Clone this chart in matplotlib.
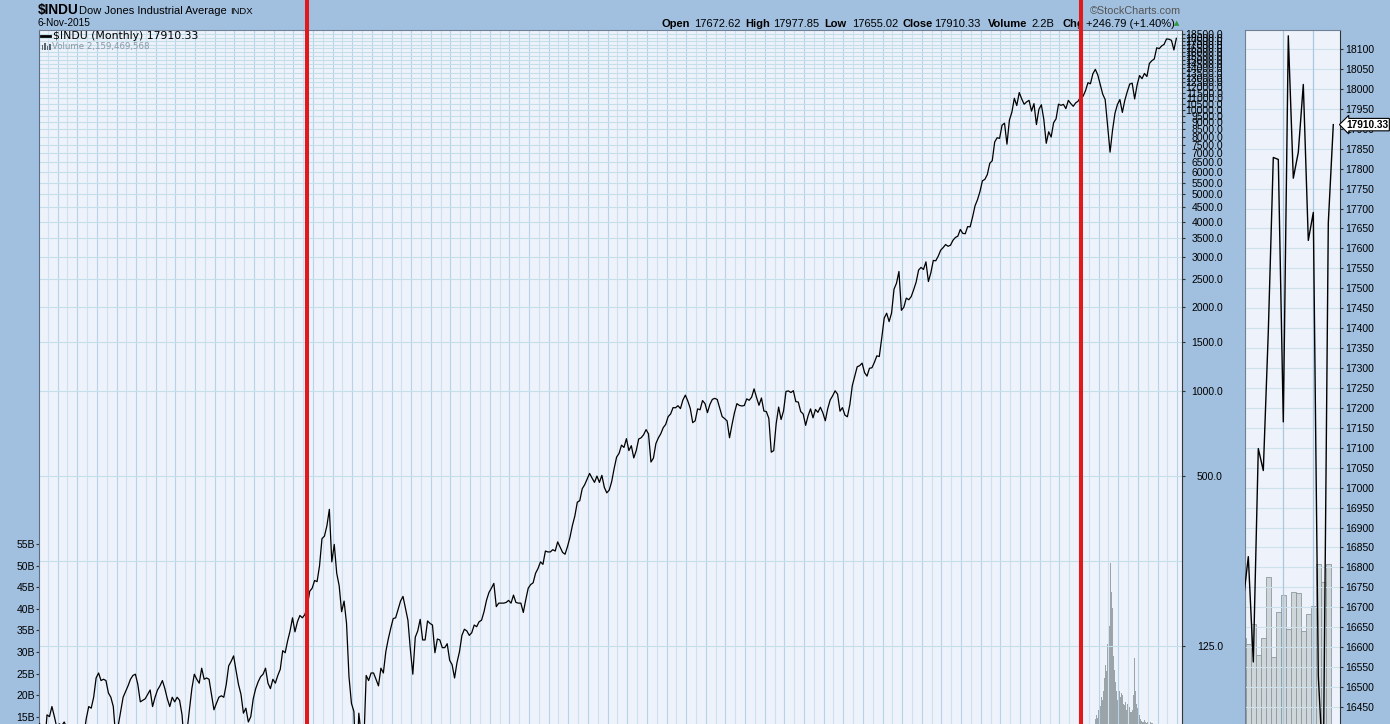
import numpy as np
import matplotlib
matplotlib.use("Agg")
import matplotlib.pyplot as plt
from matplotlib.lines import Line2D
from matplotlib.patches import Rectangle
from matplotlib.ticker import NullLocator

plt.rcParams['font.family'] = ['Liberation Sans', 'DejaVu Sans']

# ---------------- data (quarterly closes) ----------------
closes_1900s = [66, 58, 55, 71, 70, 76, 70, 64, 66, 65, 67, 64, 60, 53, 45, 49,
                50, 53, 60, 69, 76, 75, 82, 96, 100, 94, 95, 94, 85, 82, 76, 59,
                65, 73, 82, 86, 90, 95, 98, 99]
closes_1910s = [91, 79, 80, 81, 84, 87, 76, 82, 87, 90, 94, 88, 81, 76, 82, 79,
                82, 80, 71, 54, 62, 74, 88, 99, 95, 92, 104, 95, 96, 95, 84, 74,
                78, 82, 83, 82, 91, 106, 110, 115]
closes_1920s = [102, 91, 84, 72, 75, 67, 70, 81, 88, 93, 97, 99, 104, 92, 88, 95,
                92, 98, 103, 120, 118, 130, 141, 157, 140, 152, 160, 157,
                161, 172, 195, 200, 213, 211, 240, 300, 306, 333, 381, 248]
closes_1930s = [286, 226, 204, 165, 180, 150, 97, 78, 73, 43, 72, 60, 55, 98, 94, 100,
                100, 95, 90, 104, 100, 119, 132, 144, 156, 157, 168, 180,
                187, 170, 154, 121, 99, 134, 141, 155, 131, 131, 153, 150]
closes_1940s = [148, 118, 132, 131, 123, 123, 127, 111, 107, 96, 109, 119,
                136, 143, 141, 136, 139, 148, 146, 152, 154, 165, 181, 193,
                200, 208, 172, 177, 177, 177, 178, 181, 177, 189, 178, 177,
                177, 164, 182, 200]
closes_1950s = [206, 209, 226, 235, 248, 243, 271, 269, 269, 274, 271, 292,
                280, 268, 264, 281, 303, 334, 361, 404, 409, 451, 466, 488,
                511, 492, 475, 500, 475, 503, 456, 436, 446, 478, 532, 584,
                602, 644, 632, 679]
closes_1960s = [616, 641, 580, 616, 677, 684, 701, 731, 706, 561, 579, 652,
                683, 707, 743, 763, 813, 831, 875, 874, 889, 868, 931, 969,
                924, 870, 774, 786, 866, 860, 927, 905, 840, 898, 936, 944,
                935, 873, 813, 800]
closes_1970s = [785, 684, 761, 839, 904, 891, 887, 890, 940, 929, 953, 1020,
                951, 892, 947, 851, 847, 802, 608, 616, 768, 879, 794, 852,
                999, 1003, 990, 1005, 919, 916, 847, 831, 757, 819, 866, 805,
                862, 842, 878, 839]
closes_1980s = [786, 868, 932, 964, 1004, 977, 850, 875, 823, 812, 896, 1047,
                1130, 1222, 1233, 1259, 1165, 1132, 1207, 1212, 1267, 1336, 1329, 1547,
                1819, 1893, 1768, 1896, 2305, 2419, 2663, 1939, 1989, 2142, 2113, 2169,
                2294, 2440, 2693, 2753]
closes_1990s = [2707, 2881, 2453, 2634, 2914, 2907, 3017, 3169, 3236, 3319, 3272, 3301,
                3436, 3516, 3555, 3754, 3636, 3625, 3843, 3834, 4158, 4556, 4789, 5117,
                5587, 5655, 5882, 6448, 6584, 7673, 7945, 7908, 8800, 8952, 7539, 9181,
                9786, 10971, 10337, 11497]
closes_2000s = [10922, 10448, 10651, 10787, 9879, 10502, 8848, 10022,
                10404, 9243, 7592, 8342, 7992, 8985, 9275, 10454,
                10358, 10435, 10080, 10783, 10504, 10275, 10569, 10718,
                11109, 11150, 11679, 12463, 12354, 13409, 13896, 13265,
                12263, 11350, 10851, 8776, 7063, 8447, 9712, 10428]
closes_2010s = [10857, 9774, 10788, 11578, 12320, 12414, 10913, 12218,
                13212, 12880, 13437, 13104, 14579, 14910, 15130, 16577,
                16458, 16827, 17043, 17823, 17776, 17620, 16285, 17910]

# monthly volume (billions) from Aug 2007, the part visible above the cut
volume_b = [13.9, 14.5, 15.5, 14.8, 16.5, 17.0, 18.5, 17.5, 19.5, 18.8, 20.9, 22.5,
            24.0, 27.0, 25.5, 31.9, 26.6, 30.0, 36.0, 50.7, 44.0, 40.1, 33.2, 29.0,
            25.8, 23.0, 21.0, 20.0, 19.0, 18.5, 21.0, 19.5, 20.5, 23.3, 20.0, 18.0,
            17.8, 18.5, 17.5, 16.5, 18.0, 17.0, 17.3, 16.0, 15.5, 16.0, 16.5, 20.0,
            28.5, 22.0, 21.0, 18.0, 17.0, 16.0, 15.5, 14.8, 14.5, 14.0, 13.8, 13.9,
            13.6, 14.2, 13.7, 13.5, 13.9, 14.1, 13.6, 13.4, 13.8, 13.6, 13.5, 13.4]

# side panel: monthly closes May 2014 .. Nov 2015
panel_months = ['2014-05', '2014-06', '2014-07', '2014-08', '2014-09', '2014-10',
                '2014-11', '2014-12', '2015-01', '2015-02', '2015-03', '2015-04',
                '2015-05', '2015-06', '2015-07', '2015-08', '2015-09', '2015-10', '2015-11']
panel_closes = [16717, 16827, 16563, 17098, 17043, 17391, 17828, 17823, 17165,
                18133, 17776, 17841, 18011, 17620, 17690, 16528, 16285, 17664, 17910.33]
panel_volume = [10.0, 9.7, 10.75, 9.1, 10.0, 13.3, 9.0, 11.4, 12.3, 10.5, 12.5,
                12.4, 10.4, 11.3, 11.7, 14.0, 13.0, 14.0, 2.2]

price_ticks = [125, 500, 1000] + list(range(1500, 19000, 500))
price_labels = [f"{v:.1f}" for v in price_ticks]
price_grid = [125, 250, 500, 1000] + list(range(1500, 19000, 500))
vol_ticks = [15, 20, 25, 30, 35, 40, 45, 50, 55]
vol_labels = [f"{v}B" for v in vol_ticks]
panel_ticks = list(range(16450, 18101, 50))
event_years = [1927.37, 2006.18]

# ---------------- figure ----------------
W, H = 1390, 724
fig = plt.figure(figsize=(W / 100, H / 100), dpi=100)
fig.patch.set_facecolor('#a1c0e0')


def fx(px):
    return px / W


def fy(py):
    return 1 - py / H


BG = '#eef2fa'
TOP = 30
L, R = 38.5, 1181.7

axv = fig.add_axes([fx(L), 0, fx(R - L), (H - TOP) / H])
axv.set_facecolor(BG)
axp = axv.twinx()
axp.set_zorder(5)
axp.patch.set_visible(False)

closes = np.concatenate([closes_1900s, closes_1910s, closes_1920s, closes_1930s,
                         closes_1940s, closes_1950s, closes_1960s, closes_1970s,
                         closes_1980s, closes_1990s, closes_2000s, closes_2010s])
t_q = 1900 + 2 / 12 + 0.25 * np.arange(len(closes))

axv.set_xlim(1900.05, 2016.46)
axp.set_yscale('log')
axp.set_ylim(65.9, 19170)
axv.set_ylim(13.33, 173.98)

# grid
for yr in range(1901, 2017):
    col = '#b7d3ea' if yr % 2 == 0 else '#cfe1f1'
    axp.axvline(yr, color=col, lw=0.8, zorder=0.5)
for v in price_grid:
    axp.axhline(v, color='#c3dfea', lw=0.8, zorder=0.5)

# volume
t_v = 2007 + 7 / 12 + np.arange(len(volume_b)) / 12
axv.bar(t_v + 1 / 24, volume_b, width=1 / 12, color='#9aa4a9', linewidth=0)

# price
axp.plot(t_q, closes, color='black', lw=0.9, zorder=3)

# red event lines
for ey in event_years:
    axp.axvline(ey, ymin=0, ymax=H / (H - TOP), color='#e2191c', lw=2.9,
                clip_on=False, zorder=10)

# axes styling
axv.set_xticks([])
axp.set_xticks([])
axp.set_yticks(price_ticks)
axp.set_yticklabels(price_labels)
axp.yaxis.set_minor_locator(NullLocator())
axp.tick_params(axis='y', which='major', right=True, left=False, labelright=True,
                labelleft=False, length=2, pad=27.7, labelsize=7.5, color='#333333')
for lab in axp.get_yticklabels():
    lab.set_horizontalalignment('right')
axv.yaxis.tick_left()
axv.set_yticks(vol_ticks)
axv.set_yticklabels(vol_labels)
axv.tick_params(axis='y', length=2.2, pad=0.5, labelsize=7.5, color='#333333')
for sp in axv.spines.values():
    sp.set_visible(False)
axp.spines['bottom'].set_visible(False)
axp.spines['top'].set_color('#6f7f95')
axp.spines['left'].set_color('#5d6d85')
axp.spines['right'].set_color('#333333')
axp.spines['right'].set_linestyle((0, (1, 1)))
for s in ['top', 'left', 'right']:
    axp.spines[s].set_linewidth(0.8)

# ---------------- side panel ----------------
PL, PR = 1245, 1340
axsv = fig.add_axes([fx(PL), 0, fx(PR - PL), (H - TOP) / H])
axsv.set_facecolor(BG)
axsp = axsv.twinx()
axsp.set_zorder(axsv.get_zorder() + 1)
axsp.patch.set_visible(False)
idx = np.arange(len(panel_months)) - 1
axsv.set_xlim(-0.66, 18.34)
axsv.set_ylim(5.376, 42.69)
axsp.set_ylim(16407.4, 18147.6)
axsv.bar(idx, panel_volume, width=1.0, color='#cfd6da', edgecolor='#8d999e', lw=0.6)
for v in panel_ticks:
    axsp.axhline(v, color='#cde2ec', lw=0.8, zorder=0.5)
for i in [7, 13]:
    axsp.axvline(i, color='#a9c8e2', lw=0.9, zorder=0.5)
axsp.plot(idx, panel_closes, color='black', lw=1.0, zorder=3)
axsv.set_xticks([])
axsv.set_yticks([])
axsp.set_xticks([])
axsp.set_yticks(panel_ticks)
axsp.set_yticklabels([str(v) for v in panel_ticks])
axsp.tick_params(axis='y', length=2, pad=1.6, labelsize=7.5, color='#333333')
for sp in axsv.spines.values():
    sp.set_visible(False)
axsp.spines['bottom'].set_visible(False)
axsp.spines['top'].set_color('#6f7f95')
axsp.spines['left'].set_color('#6f7f95')
axsp.spines['right'].set_color('#333333')
axsp.spines['right'].set_linestyle((0, (1, 1)))
axsp.text((1346 - PL) / (PR - PL), panel_closes[-1], f"{panel_closes[-1]:.2f}",
          transform=axsp.get_yaxis_transform(), ha='left', va='center',
          fontsize=7.3, fontweight='bold', clip_on=False, zorder=20,
          bbox=dict(boxstyle='larrow,pad=0.12', fc='white', ec='black', lw=0.8))

# ---------------- header texts ----------------
fig.text(fx(38), fy(10), '$INDU', fontsize=9.8, fontweight='bold', va='center')
fig.text(fx(79), fy(10.5), 'Dow Jones Industrial Average', fontsize=8, va='center')
fig.text(fx(230), fy(11), 'INDX', fontsize=6.8, va='center')
fig.text(fx(37.5), fy(23.5), '6-Nov-2015', fontsize=7.3, va='center')
fig.text(fx(1181), fy(11.5), '\u00a9StockCharts.com', fontsize=7.8, va='center',
         ha='right', color='#555555')

pieces = [(662, 'Open', True), (693.6, '17672.62', False), (745.4, 'High', True),
          (772.9, '17977.85', False), (824, 'Low', True), (851.8, '17655.02', False),
          (902.5, 'Close', True), (933.6, '17910.33', False), (988.2, 'Volume', True),
          (1031, '2.2B', False), (1062.5, 'Chg', True), (1086.4, '+246.79 (+1.40%)', False)]
for px, s, b in pieces:
    fig.text(fx(px), fy(24), s, fontsize=8, va='center',
             fontweight='bold' if b else 'normal')
fig.text(fx(1174), fy(23), '\u25b2', fontsize=5, va='center', color='#2f9a3a',
         family='DejaVu Sans')

# legend inside plot (drawn above the axes)
fig.add_artist(Line2D([fx(41), fx(50)], [fy(35.5), fy(35.5)], color='black', lw=2.0,
                      zorder=20))
fig.text(fx(53), fy(36), '$INDU (Monthly) 17910.33', fontsize=7.8, va='center',
         family='DejaVu Sans', zorder=20)
for bx, bh in [(41.5, 5), (44, 7), (46.5, 4), (49, 6)]:
    fig.add_artist(Rectangle((fx(bx), fy(50)), fx(1.6), bh / H, transform=fig.transFigure,
                             color='#5a6670', lw=0, zorder=20))
fig.text(fx(52), fy(46.5), 'Volume 2,159,469,568', fontsize=6.2, va='center',
         color='#8a98a4', family='DejaVu Sans', zorder=20)

fig.savefig('out.png', dpi=100, facecolor=fig.get_facecolor())
